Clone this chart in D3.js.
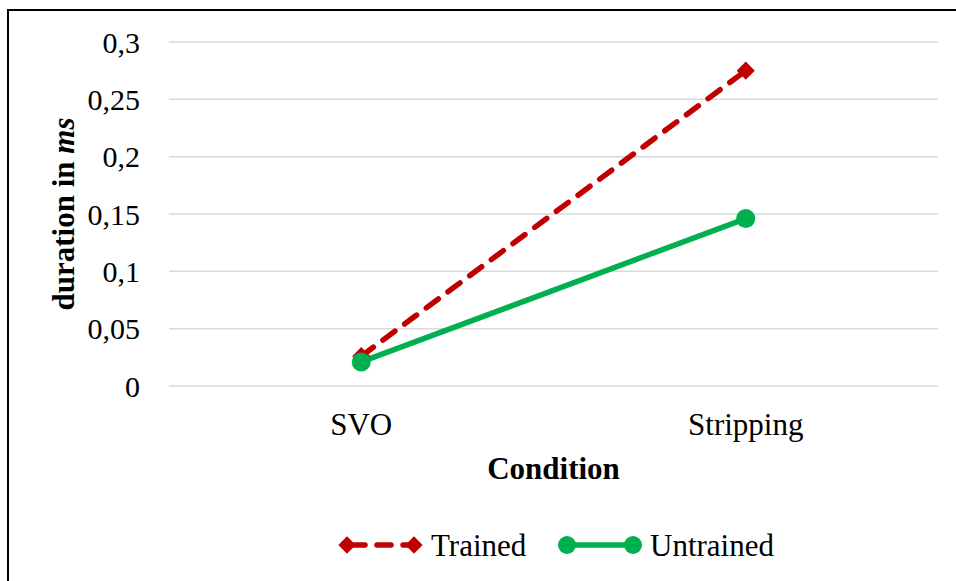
<!DOCTYPE html>
<html>
<head>
<meta charset="utf-8">
<script src="https://cdn.jsdelivr.net/npm/d3@7"></script>
<style>
  html, body { margin: 0; padding: 0; background: #fff; }
  svg { display: block; }
  text { font-family: "Liberation Serif", "Times New Roman", serif; fill: #000; }
</style>
</head>
<body>
<script>
// Mean durations per condition
const categories = ["SVO", "Stripping"];
const trained = [0.026, 0.275];
const untrained = [0.021, 0.146];
const yTicks = [0, 0.05, 0.1, 0.15, 0.2, 0.25, 0.3];
const yTickLabels = ["0", "0,05", "0,1", "0,15", "0,2", "0,25", "0,3"];
const seriesNames = ["Trained", "Untrained"];

const W = 956, H = 581;
const svg = d3.select("body").append("svg").attr("width", W).attr("height", H);

// Outer frame
svg.append("rect")
  .attr("x", 8).attr("y", 10).attr("width", W + 10).attr("height", H + 10)
  .attr("fill", "none").attr("stroke", "#000").attr("stroke-width", 2);

const plot = { left: 169, right: 938, top: 42, bottom: 386 };

const x = d3.scaleBand().domain(categories).range([plot.left, plot.right]);
const y = d3.scaleLinear().domain([0, 0.3]).range([plot.bottom, plot.top]);

// Gridlines
svg.append("g").selectAll("line").data(yTicks).join("line")
  .attr("x1", plot.left).attr("x2", plot.right)
  .attr("y1", d => y(d)).attr("y2", d => y(d))
  .attr("stroke", "#d9d9d9").attr("stroke-width", 1.5);

// Y tick labels
svg.append("g").selectAll("text").data(yTicks).join("text")
  .attr("x", 140).attr("y", d => y(d))
  .attr("dy", "0.35em").attr("text-anchor", "end")
  .attr("font-size", 30)
  .text((d, i) => yTickLabels[i]);

// X tick labels
svg.append("g").selectAll("text").data(categories).join("text")
  .attr("x", d => x(d) + x.bandwidth() / 2).attr("y", 424)
  .attr("dy", "0.35em").attr("text-anchor", "middle")
  .attr("font-size", 31)
  .text(d => d);

// Axis titles
svg.append("text")
  .attr("x", (plot.left + plot.right) / 2).attr("y", 468)
  .attr("dy", "0.35em").attr("text-anchor", "middle")
  .attr("font-size", 31).attr("font-weight", "bold")
  .text("Condition");

const yTitle = svg.append("text")
  .attr("transform", `translate(63,${(plot.top + plot.bottom) / 2}) rotate(-90)`)
  .attr("dy", "0.35em").attr("text-anchor", "middle")
  .attr("font-size", 31).attr("font-weight", "bold");
yTitle.append("tspan").text("duration in ");
yTitle.append("tspan").attr("font-style", "italic").text("ms");

const red = "#c00000", green = "#00b050";
const cx = d => x(d) + x.bandwidth() / 2;
const line = d3.line().x((d, i) => cx(categories[i])).y(d => y(d));

// Untrained series (solid, circles)
svg.append("path").datum(untrained)
  .attr("d", line).attr("fill", "none")
  .attr("stroke", green).attr("stroke-width", 5.5).attr("stroke-linecap", "round");

// Trained series (dashed, diamonds)
svg.append("path").datum(trained)
  .attr("d", line).attr("fill", "none")
  .attr("stroke", red).attr("stroke-width", 5.5)
  .attr("stroke-dasharray", "15,12").attr("stroke-linecap", "round");

const diamond = d3.symbol().type(d3.symbolDiamond2).size(210);
svg.append("g").selectAll("path").data(trained).join("path")
  .attr("transform", (d, i) => `translate(${cx(categories[i])},${y(d)})`)
  .attr("d", diamond).attr("fill", red);

svg.append("g").selectAll("circle").data(untrained).join("circle")
  .attr("cx", (d, i) => cx(categories[i])).attr("cy", d => y(d))
  .attr("r", 9.5).attr("fill", green);

// Legend
const legendY = 545;
const lg = svg.append("g");
// Trained
lg.append("line").attr("x1", 347).attr("x2", 414).attr("y1", legendY).attr("y2", legendY)
  .attr("stroke", red).attr("stroke-width", 5.5).attr("stroke-dasharray", "14,12")
  .attr("stroke-dashoffset", -4).attr("stroke-linecap", "round");
[347, 414].forEach(px => lg.append("path")
  .attr("transform", `translate(${px},${legendY})`)
  .attr("d", d3.symbol().type(d3.symbolDiamond2).size(190)).attr("fill", red));
lg.append("text").attr("x", 431).attr("y", legendY).attr("dy", "0.35em")
  .attr("font-size", 31).text(seriesNames[0]);
// Untrained
lg.append("line").attr("x1", 567).attr("x2", 633).attr("y1", legendY).attr("y2", legendY)
  .attr("stroke", green).attr("stroke-width", 5.5);
[567, 633].forEach(px => lg.append("circle")
  .attr("cx", px).attr("cy", legendY).attr("r", 9).attr("fill", green));
lg.append("text").attr("x", 650).attr("y", legendY).attr("dy", "0.35em")
  .attr("font-size", 31).text(seriesNames[1]);
</script>
</body>
</html>
